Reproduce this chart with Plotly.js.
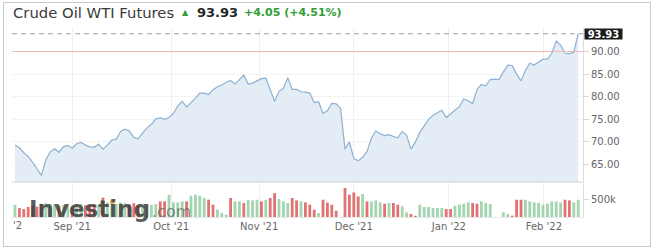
<!DOCTYPE html>
<html><head><meta charset="utf-8">
<script src="https://cdn.plot.ly/plotly-3.0.1.min.js"></script>
<style>
html,body{margin:0;padding:0;background:#fff;}
#chart{position:absolute;left:0;top:0;width:656px;height:252px;}
#frame{position:absolute;left:3px;top:2px;width:648px;height:245px;border:1px solid #c9c9c9;box-sizing:border-box;pointer-events:none;z-index:5;}
</style></head><body>
<div id="chart"></div><div id="frame"></div>
<script>
// ---- data ----
const instrument = 'Crude Oil WTI Futures';
const lastPrice = 93.93;
const refLevel = 90;
const changeText = '+4.05 (+4.51%)';
const monthTicks = [13, 35.5, 55.5, 77, 98.6, 120.2];
const monthLabels = ["Sep '21", "Oct '21", "Nov '21", "Dec '21", "Jan '22", "Feb '22"];
const priceTicks = [65, 70, 75, 80, 85, 90];
const volumeTicks = [500000];
const volumeTickLabels = ['500k'];

const price = [
  69.3,68.7,67.6,66.8,65.5,64.0,62.6,66.0,67.8,68.5,
  67.7,68.9,69.2,68.6,69.6,69.9,69.3,68.9,68.8,69.5,
  68.4,69.3,70.4,70.6,72.3,72.8,72.4,71.0,70.7,72.0,
  73.1,73.9,75.1,75.3,75.0,75.4,76.3,77.9,79.0,77.7,
  78.6,79.7,80.8,80.8,80.5,81.5,82.2,82.6,83.2,83.6,
  82.8,83.8,84.8,82.8,83.0,83.5,84.0,84.1,81.5,79.0,
  81.2,81.9,84.2,81.6,81.6,81.1,81.0,80.8,78.7,78.9,
  76.3,76.9,78.5,78.4,77.4,68.4,70.0,66.3,65.8,66.6,
  67.9,70.8,72.4,71.8,71.4,71.6,71.2,70.9,72.3,71.5,
  68.4,70.0,72.1,73.5,75.0,75.9,76.4,77.0,75.4,76.1,
  77.0,77.8,79.5,79.1,78.5,81.6,82.7,82.4,83.8,83.9,
  83.8,85.5,87.0,86.9,85.0,83.5,85.8,87.4,87.0,87.7,
  88.3,88.3,89.6,92.3,91.4,89.6,89.5,89.9,93.93
];

// volume in thousands of contracts
const volumeK = [
  350,260,230,290,320,300,380,400,380,360,
  330,350,340,300,360,380,340,330,360,350,
  560,420,400,380,420,400,360,400,350,380,
  360,350,370,453,453,645,424,424,453,453,
  617,645,617,550,500,356,212,116,67,550,
  453,453,405,500,482,500,453,500,550,693,
  520,453,405,550,482,453,424,356,212,116,
  500,420,356,180,0,838,645,713,597,665,
  453,453,482,424,385,405,405,356,308,135,
  87,38,356,289,289,260,260,260,231,231,
  327,356,385,424,405,385,453,405,375,0,
  0,135,87,38,500,500,500,453,424,405,
  356,385,453,453,424,500,482,424,500
];
// u = up day (green), d = down day (red)
const volumeDir = [
  'u','d','d','d','d','d','d','u','u','u',
  'd','u','u','d','u','u','d','d','d','u',
  'd','u','u','u','u','u','d','d','d','u',
  'u','u','u','d','d','u','u','u','u','d',
  'u','u','u','u','d','d','u','u','u','d',
  'u','u','d','u','u','u','d','u','d','d',
  'u','u','u','d','d','u','d','d','d','u',
  'd','d','d','d','d','d','d','d','d','u',
  'd','u','u','u','d','u','d','d','u','u',
  'd','d','u','u','u','u','u','u','d','d',
  'u','u','u','u','d','d','u','u','u','u',
  'u','u','u','d','d','d','u','u','u','u',
  'u','u','u','u','u','d','d','u','u'
];

// ---- drawing ----
const GREEN = '#a2d5b0', RED = '#e07474', UPTXT = '#2f9e35';
const idx = price.map((_, i) => i);
const XR = [-0.68, 129.09];
const L = 12, R = 583, T = 28, B = 217;
const pxX = p => (p - L) / (R - L);
const pxY = p => (B - p) / (B - T);

const traces = [
  {type:'scatter', mode:'lines', x: idx, y: price, xaxis:'x', yaxis:'y',
   fill:'tozeroy', fillcolor:'#e4edf6', line:{color:'#8db1d1', width:1.2}, hoverinfo:'skip'},
  {type:'scatter', mode:'lines', x: XR, y: [refLevel, refLevel], xaxis:'x', yaxis:'y',
   line:{color:'#f2b8b8', width:1}, hoverinfo:'skip'},
  {type:'scatter', mode:'lines', x: XR, y: [lastPrice, lastPrice], xaxis:'x', yaxis:'y',
   line:{color:'#a0a0a0', width:1, dash:'5px,4px'}, hoverinfo:'skip'},
  {type:'bar', x: idx, y: volumeK.map(v => v * 1000), xaxis:'x', yaxis:'y2',
   marker:{color: volumeDir.map(d => d === 'u' ? GREEN : RED), line:{width:0}}, hoverinfo:'skip'}
];

const layout = {
  width:656, height:252,
  margin:{l:L, r:656 - R, t:T, b:252 - B, pad:0},
  paper_bgcolor:'#fff', plot_bgcolor:'#fff',
  showlegend:false, bargap:0.36,
  font:{family:'DejaVu Sans', size:10, color:'#666'},
  title:{text: instrument, font:{family:'DejaVu Sans', size:14.8, color:'#3b3b3b'},
         xref:'container', yref:'container', x:13/656, xanchor:'left', y:1 - 12.5/252, yanchor:'middle'},
  xaxis:{anchor:'y2', range: XR, tickvals: monthTicks, ticktext: monthLabels,
         showgrid:true, gridcolor:'#efefef', zeroline:false, showline:true, linecolor:'#e8e8e8',
         ticks:'', tickfont:{size:10, color:'#666'}, fixedrange:true},
  yaxis:{domain:[pxY(182), 1], range:[61.13, 95.2], side:'right', anchor:'x',
         tickvals: priceTicks, tickformat:'.2f', ticks:'outside', ticklen:5, tickcolor:'#d8d8d8',
         showgrid:true, gridcolor:'#f3f3f3', zeroline:false, showline:true, linecolor:'#dcdcdc',
         tickfont:{size:10, color:'#666'}, fixedrange:true},
  yaxis2:{domain:[0, pxY(183)], range:[0, 985000], side:'right', anchor:'x',
          tickvals: volumeTicks, ticktext: volumeTickLabels, ticks:'outside', ticklen:5, tickcolor:'#d8d8d8',
          showgrid:false, zeroline:false, showline:true, linecolor:'#dcdcdc',
          tickfont:{size:10, color:'#666'}, fixedrange:true},
  shapes:[
    {type:'line', xref:'paper', x0:0, x1:1, yref:'paper', y0:pxY(182), y1:pxY(182), line:{color:'#d0d0d0', width:1}},
    {type:'circle', xref:'paper', yref:'paper', x0:pxX(110), x1:pxX(114.5), y0:pxY(204.5), y1:pxY(200),
     fillcolor:'#f2a93b', line:{width:0}}
  ],
  annotations:[
    {xref:'paper', yref:'y', x:pxX(584), xanchor:'left', y:lastPrice, yanchor:'middle',
     text:'<b>' + lastPrice.toFixed(2) + '</b>', showarrow:false, bgcolor:'#1c1c1c',
     font:{color:'#fff', size:10}, width:37, height:10, borderpad:0},
    {xref:'paper', yref:'paper', x:pxX(185.5), xanchor:'center', y:pxY(12.5), yanchor:'middle',
     text:'▲', showarrow:false, font:{size:8, color:UPTXT}},
    {xref:'paper', yref:'paper', x:pxX(195), xanchor:'left', y:pxY(12.5), yanchor:'middle',
     text:'<b>' + lastPrice.toFixed(2) + '</b>', showarrow:false, font:{size:13, color:'#262626'}},
    {xref:'paper', yref:'paper', x:pxX(242), xanchor:'left', y:pxY(12.5), yanchor:'middle',
     text:'<b>' + changeText + '</b>', showarrow:false, font:{size:11, color:UPTXT}},
    {xref:'paper', yref:'paper', x:pxX(17), xanchor:'center', y:pxY(225), yanchor:'middle',
     text:"'2", showarrow:false, font:{size:10, color:'#666'}},
    {xref:'paper', yref:'paper', x:pxX(27), xanchor:'left', y:pxY(208.5), yanchor:'middle',
     text:'<b>Investing</b>', showarrow:false, font:{family:'DejaVu Sans', size:23, color:'rgba(62,62,62,0.85)'}},
    {xref:'paper', yref:'paper', x:pxX(150), xanchor:'left', y:pxY(211), yanchor:'middle',
     text:'.com', showarrow:false, font:{family:'DejaVu Sans', size:16, color:'rgba(95,95,95,0.7)'}}
  ]
};

Plotly.newPlot('chart', traces, layout, {displayModeBar:false, staticPlot:true});
</script></body></html>
